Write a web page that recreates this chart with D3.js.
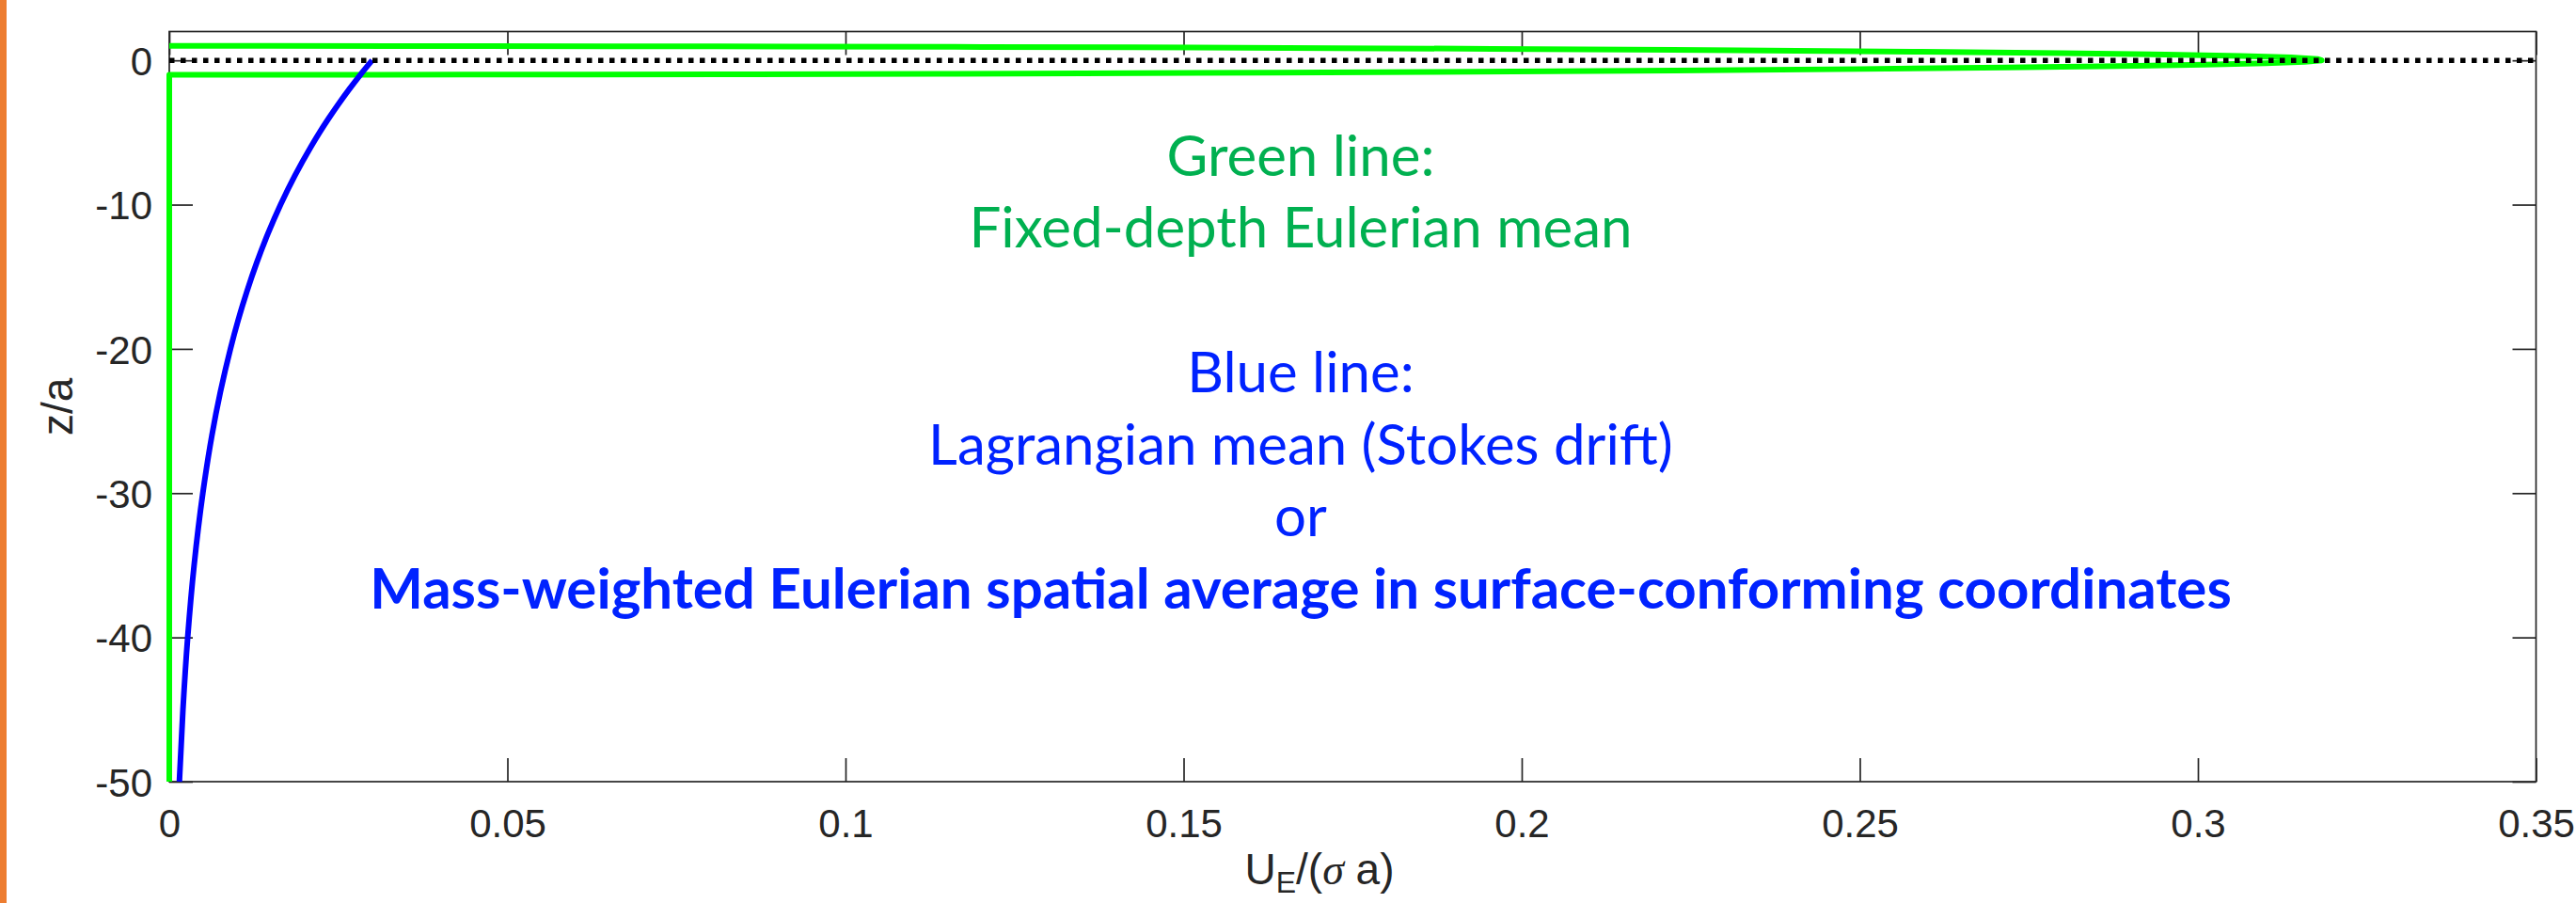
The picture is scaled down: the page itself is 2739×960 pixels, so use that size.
<!DOCTYPE html>
<html>
<head>
<meta charset="utf-8">
<script src="https://cdn.jsdelivr.net/npm/d3@7"></script>
<style>
	body { margin: 0; background: #fff; }
	svg { display: block; }
	.axis text { font-family: 'Liberation Sans', Arial, sans-serif; font-size: 42px; fill: #262626; }
	.axis line { stroke: #262626; stroke-width: 1.7; }
	.box { fill: none; stroke: #262626; stroke-width: 1.7; }
	.label { font-family: 'Liberation Sans', Arial, sans-serif; font-size: 46px; fill: #262626; }
	.note { font-family: Lato, 'Open Sans', sans-serif; font-size: 60px; }
</style>
</head>
<body>
<div id="chart"></div>
<script>
// axis ticks
var xTicks      = [0, 0.05, 0.1, 0.15, 0.2, 0.25, 0.3, 0.35];
var xTickLabels = ['0', '0.05', '0.1', '0.15', '0.2', '0.25', '0.3', '0.35'];
var yTicks      = [-50, -40, -30, -20, -10, 0];
var yTickLabels = ['-50', '-40', '-30', '-20', '-10', '0'];

// blue: Lagrangian mean (Stokes drift), z/a vs U/(sigma a)
var blueZ = [-50, -45, -40, -35, -30, -26, -23, -20, -18, -16, -14, -12, -10, -8, -6, -5, -4, -3, -2, -1, 0];
var blueU = [0.00149, 0.00202, 0.00272, 0.00367, 0.00496, 0.00630, 0.00755, 0.00904, 0.01019, 0.01149,
	0.01295, 0.01460, 0.01646, 0.01856, 0.02093, 0.02222, 0.02360, 0.02506, 0.02661, 0.02825, 0.03];

// green: fixed-depth Eulerian mean
var greenZ = [-50, -1, -0.9999, -0.999, -0.995, -0.99, -0.98, -0.96, -0.93, -0.9, -0.85, -0.8, -0.7, -0.6,
	-0.5, -0.4, -0.3, -0.2, -0.1, 0, 0.1, 0.2, 0.3, 0.4, 0.5, 0.6, 0.7, 0.8, 0.85, 0.9, 0.93, 0.96, 0.98,
	0.99, 0.995, 0.999, 0.9999, 1];
var greenU = [0, 0, 0.00437, 0.01381, 0.03086, 0.04359, 0.06151, 0.08660, 0.11378, 0.13505, 0.16346,
	0.18646, 0.22260, 0.25011, 0.27156, 0.28826, 0.30093, 0.31001, 0.31576, 0.31831, 0.31766, 0.31376,
	0.30639, 0.29526, 0.27983, 0.25927, 0.23214, 0.19563, 0.17201, 0.14255, 0.12031, 0.09173, 0.06523,
	0.04626, 0.03276, 0.01467, 0.00464, 0];

// dotted surface line z = 0
var surfU = [0, 0.35];
var surfZ = [0, 0];

// annotation text (row = line slot in the text block)
var noteText   = ['Green line:', 'Fixed-depth Eulerian mean', 'Blue line:', 'Lagrangian mean (Stokes drift)', 'or',
	'Mass-weighted Eulerian spatial average in surface-conforming coordinates'];
var noteRow    = [0, 1, 3, 4, 5, 6];
var noteColor  = ['#00b050', '#00b050', '#0022ff', '#0022ff', '#0022ff', '#0022ff'];
var noteWeight = ['normal', 'normal', 'normal', 'normal', 'normal', 'bold'];

function DriftChart(config) {
	var me = this;
	me.width  = config.width;
	me.height = config.height;
	me.margin = {top: 33.5, right: 42.5, bottom: 129, left: 180};
	me.viewWidth  = me.width - me.margin.left - me.margin.right;
	me.viewHeight = me.height - me.margin.top - me.margin.bottom;
	me.parentNode = d3.select('#' + config.parentId);
	me.initVisuals();
	me.draw();
}

DriftChart.prototype.initVisuals = function() {
	var me = this;
	me.svg = me.parentNode.append('svg')
		.attr('width', me.width)
		.attr('height', me.height);

	// orange strip at the left edge
	me.svg.append('rect')
		.attr('x', 0).attr('y', 0)
		.attr('width', 7).attr('height', me.height)
		.attr('fill', '#ed7d31');

	me.vis = me.svg.append('g')
		.attr('transform', 'translate(' + me.margin.left + ',' + me.margin.top + ')');

	me.xScale = d3.scaleLinear().domain([0, 0.35]).range([0, me.viewWidth]);
	me.yScale = d3.scaleLinear().domain([-50, 2]).range([me.viewHeight, 0]);
}

DriftChart.prototype.draw = function() {
	var me = this;
	me.drawAxes();
	me.drawLines();
	me.drawNotes();
}

DriftChart.prototype.drawAxes = function() {
	var me = this, tick = 25;

	var xb = d3.axisBottom(me.xScale).tickValues(xTicks).tickSizeInner(-tick).tickSizeOuter(0)
		.tickFormat(function(d, i) { return xTickLabels[i]; });
	var xt = d3.axisTop(me.xScale).tickValues(xTicks).tickSizeInner(-tick).tickSizeOuter(0)
		.tickFormat('');
	var yl = d3.axisLeft(me.yScale).tickValues(yTicks).tickSizeInner(-tick).tickSizeOuter(0)
		.tickFormat(function(d, i) { return yTickLabels[i]; });
	var yr = d3.axisRight(me.yScale).tickValues(yTicks).tickSizeInner(-tick).tickSizeOuter(0)
		.tickFormat('');

	var gx = me.vis.append('g').attr('class', 'axis')
		.attr('transform', 'translate(0,' + me.viewHeight + ')').call(xb);
	gx.selectAll('text').attr('y', 59).attr('dy', 0);
	me.vis.append('g').attr('class', 'axis').call(xt);
	var gy = me.vis.append('g').attr('class', 'axis').call(yl);
	gy.selectAll('text').attr('x', -18).attr('dy', '0.36em');
	me.vis.append('g').attr('class', 'axis')
		.attr('transform', 'translate(' + me.viewWidth + ',0)').call(yr);
	me.vis.selectAll('.axis .domain').remove();
	me.vis.selectAll('.axis').attr('font-size', null).attr('font-family', null);

	me.vis.append('rect').attr('class', 'box')
		.attr('width', me.viewWidth).attr('height', me.viewHeight);

	// x label U_E/(sigma a), close to the bottom edge as in the original
	var xl = me.svg.append('text').attr('class', 'label')
		.attr('x', 1403)
		.attr('y', 940)
		.attr('text-anchor', 'middle');
	xl.append('tspan').text('U');
	xl.append('tspan').attr('font-size', 32).attr('dy', 9).text('E');
	xl.append('tspan').attr('dy', -9).text('/(');
	xl.append('tspan').attr('font-family', "'Liberation Serif', serif").attr('font-style', 'italic').text('\u03c3');
	xl.append('tspan').text(' a)');

	me.svg.append('text').attr('class', 'label')
		.attr('transform', 'translate(77,' + (me.margin.top + me.viewHeight / 2) + ') rotate(-90)')
		.attr('text-anchor', 'middle')
		.text('z/a');
}

DriftChart.prototype.drawLines = function() {
	var me = this;
	var straight = d3.line()
		.x(function(d) { return me.xScale(d[0]); })
		.y(function(d) { return me.yScale(d[1]); });
	var smooth = d3.line()
		.curve(d3.curveMonotoneY)
		.x(function(d) { return me.xScale(d[0]); })
		.y(function(d) { return me.yScale(d[1]); });

	var green = greenU.map(function(u, i) { return [u, greenZ[i]]; });
	var blue  = blueU.map(function(u, i) { return [u, blueZ[i]]; });
	var surf  = surfU.map(function(u, i) { return [u, surfZ[i]]; });

	me.vis.append('path')
		.attr('d', straight(green))
		.attr('fill', 'none').attr('stroke', '#00ff00')
		.attr('stroke-width', 6).attr('stroke-linejoin', 'round');
	me.vis.append('path')
		.attr('d', smooth(blue))
		.attr('fill', 'none').attr('stroke', '#0000ff')
		.attr('stroke-width', 6);
	me.vis.append('path')
		.attr('d', straight(surf))
		.attr('fill', 'none').attr('stroke', '#000')
		.attr('stroke-width', 5.5).attr('stroke-dasharray', '5.5,6.5');
}

DriftChart.prototype.drawNotes = function() {
	var me = this, cx = 1383, base = 186.7, step = 76.7;
	me.svg.append('g').selectAll('text')
		.data(noteText)
		.enter().append('text')
		.attr('class', 'note')
		.attr('x', cx)
		.attr('y', function(d, i) { return base + noteRow[i] * step; })
		.attr('text-anchor', 'middle')
		.attr('fill', function(d, i) { return noteColor[i]; })
		.attr('font-weight', function(d, i) { return noteWeight[i]; })
		.text(function(d) { return d; });
}

new DriftChart({parentId: 'chart', width: 2739, height: 960});
</script>
</body>
</html>
